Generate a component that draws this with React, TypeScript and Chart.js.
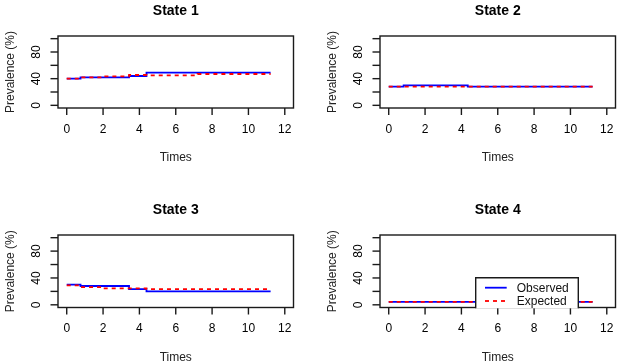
import { useEffect, useRef } from 'react';
import { Chart, registerables } from 'chart.js';

Chart.register(...registerables);

// Axis ticks (labels only at every other y tick, as the base graphics device does)
const xTickValues = [0, 2, 4, 6, 8, 10, 12];
const xTickLabels = ['0', '2', '4', '6', '8', '10', '12'];
const yTickValues = [0, 20, 40, 60, 80, 100];
const yTickLabels = ['0', '', '40', '', '80', ''];

const stateTitles = ['State 1', 'State 2', 'State 3', 'State 4'];
const legendLabels = ['Observed', 'Expected'];

// Step functions: value holds from each time until the next one
const obsTimes1 = [0, 0.76, 3.43, 4.39, 11.22];
const obsPrev1 = [40, 42, 44, 49, 49];
const expTimes1 = [0, 0.76, 1.94, 3.43, 4.39, 7.2, 11.22];
const expPrev1 = [40, 42, 43.5, 45.5, 45, 47, 47];

const obsTimes2 = [0, 0.82, 4.35, 11.22];
const obsPrev2 = [28, 30, 28, 28];
const expTimes2 = [0, 11.22];
const expPrev2 = [28, 28];

const obsTimes3 = [0, 0.76, 3.43, 4.39, 11.22];
const obsPrev3 = [30, 28, 23.5, 20, 20];
const expTimes3 = [0, 0.76, 1.94, 4.39, 11.22];
const expPrev3 = [29, 26.5, 24.5, 23.5, 23.5];

const obsTimes4 = [0, 11.22];
const obsPrev4 = [4.5, 4.5];
const expTimes4 = [0, 11.22];
const expPrev4 = [4.5, 4.5];

const FONT = '"Liberation Sans", Arial, sans-serif';

const toPoints = (t: number[], v: number[]) => t.map((x, i) => ({ x, y: v[i] }));

type Panel = {
  title: string;
  obsT: number[];
  obsV: number[];
  expT: number[];
  expV: number[];
  left: number;
  top: number;
  pad: { left: number; right: number; top: number; bottom: number };
  legend: boolean;
};

const panels: Panel[] = [
  { title: stateTitles[0], obsT: obsTimes1, obsV: obsPrev1, expT: expTimes1, expV: expPrev1, left: 0, top: 0, pad: { left: 58, right: 16.5, top: 36, bottom: 74 }, legend: false },
  { title: stateTitles[1], obsT: obsTimes2, obsV: obsPrev2, expT: expTimes2, expV: expPrev2, left: 310, top: 0, pad: { left: 70, right: 4.5, top: 36, bottom: 74 }, legend: false },
  { title: stateTitles[2], obsT: obsTimes3, obsV: obsPrev3, expT: expTimes3, expV: expPrev3, left: 0, top: 182, pad: { left: 58, right: 16.5, top: 53, bottom: 56.5 }, legend: false },
  { title: stateTitles[3], obsT: obsTimes4, obsV: obsPrev4, expT: expTimes4, expV: expPrev4, left: 310, top: 182, pad: { left: 70, right: 4.5, top: 53, bottom: 56.5 }, legend: true },
];

const W = 310;
const H = 182;

// Base-graphics style frame: box, outward ticks, rotated y labels, titles, legend
const framePlugin = {
  id: 'rFrame',
  afterDraw(chart: any, _args: any, opts: any) {
    const { ctx, chartArea: a, scales } = chart;
    const xs = scales.x;
    const ys = scales.y;
    ctx.save();
    ctx.strokeStyle = '#1a1a1a';
    ctx.fillStyle = '#000';
    ctx.lineWidth = 1.4;

    // box
    ctx.strokeRect(a.left, a.top, a.right - a.left, a.bottom - a.top);

    // x ticks and labels
    ctx.font = `12px ${FONT}`;
    ctx.textAlign = 'center';
    ctx.textBaseline = 'alphabetic';
    xTickValues.forEach((v, i) => {
      const px = xs.getPixelForValue(v);
      ctx.beginPath();
      ctx.moveTo(px, a.bottom);
      ctx.lineTo(px, a.bottom + 7);
      ctx.stroke();
      ctx.fillText(xTickLabels[i], px, a.bottom + 24.5);
    });

    // y ticks and rotated labels
    yTickValues.forEach((v, i) => {
      const py = ys.getPixelForValue(v);
      ctx.beginPath();
      ctx.moveTo(a.left - 7.5, py);
      ctx.lineTo(a.left, py);
      ctx.stroke();
      if (yTickLabels[i]) {
        ctx.save();
        ctx.translate(a.left - 17.7, py);
        ctx.rotate(-Math.PI / 2);
        ctx.fillText(yTickLabels[i], 0, 0);
        ctx.restore();
      }
    });

    // axis titles
    const cx = (a.left + a.right) / 2;
    const cy = (a.top + a.bottom) / 2;
    ctx.fillStyle = '#222';
    ctx.fillText('Times', cx, a.bottom + 53.3);
    ctx.save();
    ctx.translate(a.left - 43.7, cy);
    ctx.rotate(-Math.PI / 2);
    ctx.fillText('Prevalence (%)', 0, 0);
    ctx.restore();

    // panel title
    ctx.fillStyle = '#000';
    ctx.font = `bold 14px ${FONT}`;
    ctx.fillText(opts.title, cx, a.top - 21);

    // legend
    if (opts.legend) {
      const lx = a.left + 95.7;
      const lw = 102.6;
      const ly = a.top + 42.7;
      const lb = a.bottom + 0.8;
      ctx.fillStyle = '#fff';
      ctx.fillRect(lx, ly, lw, lb - ly);
      ctx.strokeStyle = '#1a1a1a';
      ctx.lineWidth = 1.4;
      ctx.beginPath();
      ctx.moveTo(lx, lb);
      ctx.lineTo(lx, ly);
      ctx.lineTo(lx + lw, ly);
      ctx.lineTo(lx + lw, lb);
      ctx.stroke();

      const rows = [ly + 10, ly + 23.3];
      const colors = ['#0000ff', '#ff0000'];
      const dashes = [[], [4, 4]];
      rows.forEach((ry, i) => {
        ctx.strokeStyle = colors[i];
        ctx.lineWidth = 1.8;
        ctx.setLineDash(dashes[i]);
        ctx.beginPath();
        ctx.moveTo(lx + 9.3, ry);
        ctx.lineTo(lx + 31, ry);
        ctx.stroke();
        ctx.setLineDash([]);
        ctx.fillStyle = '#111';
        ctx.font = `12px ${FONT}`;
        ctx.textAlign = 'left';
        ctx.fillText(legendLabels[i], lx + 41, ry + 4.3);
      });
    }
    ctx.restore();
  },
};

function PanelChart({ p }: { p: Panel }) {
  const ref = useRef<HTMLCanvasElement | null>(null);
  useEffect(() => {
    if (!ref.current) return;
    const chart = new Chart(ref.current, {
      type: 'line',
      data: {
        datasets: [
          {
            label: legendLabels[0],
            data: toPoints(p.obsT, p.obsV),
            borderColor: '#0000ff',
            borderWidth: 1.8,
            stepped: true,
            pointRadius: 0,
            fill: false,
            order: 2,
          },
          {
            label: legendLabels[1],
            data: toPoints(p.expT, p.expV),
            borderColor: '#ff0000',
            borderWidth: 1.8,
            borderDash: [4, 4],
            stepped: true,
            pointRadius: 0,
            fill: false,
            order: 1,
          },
        ],
      },
      options: {
        animation: false,
        responsive: false,
        events: [],
        layout: { padding: p.pad },
        scales: {
          x: { type: 'linear', min: -0.48, max: 12.48, display: false },
          y: { type: 'linear', min: -4, max: 104, display: false },
        },
        plugins: {
          legend: { display: false },
          tooltip: { enabled: false },
          rFrame: { title: p.title, legend: p.legend },
        } as any,
      },
      plugins: [framePlugin],
    });
    return () => chart.destroy();
  }, [p]);
  return (
    <canvas
      ref={ref}
      width={W}
      height={H}
      style={{ position: 'absolute', left: p.left, top: p.top, width: W, height: H }}
    />
  );
}

export default function App() {
  return (
    <div style={{ position: 'fixed', left: 0, top: 0, width: 620, height: 364, background: '#fff' }}>
      {panels.map((p) => (
        <PanelChart key={p.title} p={p} />
      ))}
    </div>
  );
}
